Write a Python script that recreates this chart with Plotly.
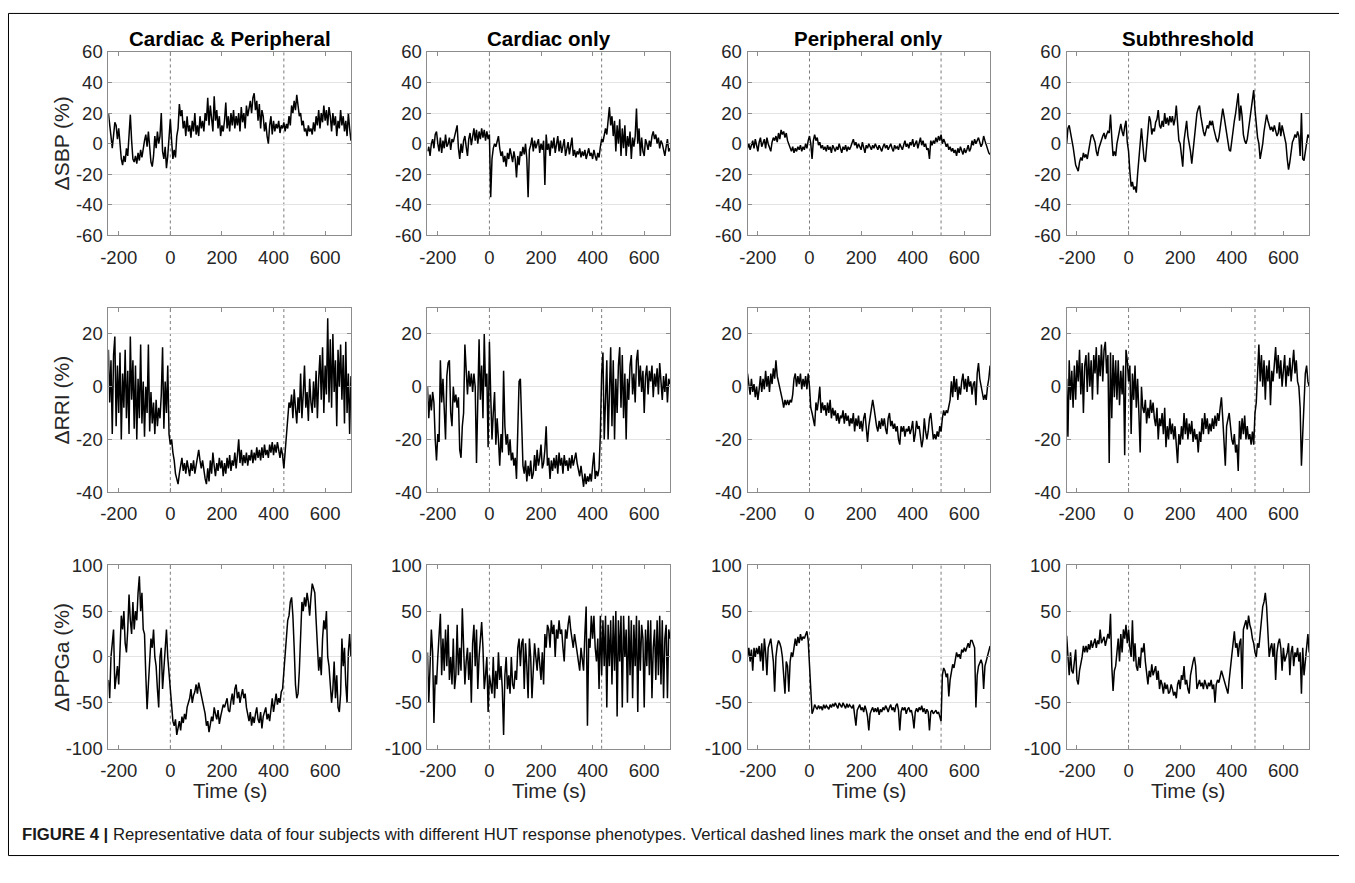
import plotly.graph_objects as go

# The page keeps the browser's default 8 px body margin, so the figure is sized
# to fill the 1355x883 window exactly and all positions are offset by 8 px.
PAGE_W, PAGE_H, OFF = 1355, 883, 8
W, H = PAGE_W - 2 * OFF, PAGE_H - 2 * OFF

# ---------------- data (5-s sampling) ----------------
t = list(range(-240, 705, 5))

sbp_cp = [20, 10, 5, -3, 8, 14, 12, 3, 10, -2, -10, -14, -8, -12, -3, -8, 5, 19, 2, -10,
          -12, -8, -13, -6, -11, -4, -9, -2, 2, 6, -2, 8, -5, -12, -15, -8, 5, -3, 8, 0,
          5, 20, -5, -10, -2, -16, -8, 5, 16, 2, -10, -4, -9, 5, 10, 26, 18, 22, 10, 15,
          5, 18, 8, 12, 4, 15, 8, 20, 6, 12, 5, 18, 10, 15, 8, 20, 15, 30, 12, 25,
          18, 8, 31, 15, 22, 10, 18, 5, 12, 8, 15, 27, 10, 18, 8, 20, 12, 22, 10, 18,
          12, 20, 8, 24, 14, 20, 10, 25, 18, 22, 28, 20, 30, 33, 22, 28, 15, 26, 10, 22,
          18, 8, 14, 5, 0, 12, 18, 6, 15, 8, 13, 10, 15, 7, 12, 10, 14, 8, 13, 10,
          18, 12, 25, 20, 28, 22, 32, 25, 18, 20, 12, 15, 8, 10, 5, 12, 8, 10, 6, 14,
          8, 18, 12, 22, 10, 20, 14, 25, 15, 22, 12, 24, 18, 8, 20, 12, 18, 5, 15, 10,
          22, 12, 18, 8, 15, 5, 20, 10, 2]

sbp_co = [-5, -2, -8, 0, 3, -3, 6, 8, 0, -5, 4, -6, 2, -3, 6, -2, 0, 4, -4, 3,
          1, 5, 9, 12, -3, -10, 0, -6, 2, 5, -2, -8, 3, 7, -1, 5, 10, 2, 9, 0,
          8, 3, 10, 4, 9, 2, 8, 3, 6, -35, -10, -3, 0, -2, 2, 5, -3, -8, -5, -12,
          -8, -15, -6, -10, -3, -8, -12, -5, -10, -22, -8, -14, -5, -8, -2, -7, 0, -10, -35, -4,
          -1, 4, -5, 2, -3, 0, 3, -6, 0, -4, 2, -27, 6, -4, 0, -8, 2, -3, 4, -6,
          0, 5, -5, 2, -6, -2, 3, -8, -3, 1, -7, -2, 4, -8, -4, -9, -5, -7, -3, -9,
          -5, -8, -4, -10, -6, -3, -8, -6, -10, -4, -8, -11, -6, -9, -2, 3, 1, 5, 10, 6,
          15, 24, 12, 18, 5, 15, -5, 12, 0, 16, -8, 10, -3, 12, -8, 5, -2, 8, -10, 4,
          -2, 5, 23, 0, 10, -8, 4, -5, -8, 3, 0, -4, 2, -2, 5, 8, 3, 6, 0, 4,
          -3, 2, 0, -5, -8, -2, 3, -5, -3]

sbp_po = [-3, 0, -4, -1, 2, -3, 3, -1, -5, 1, 4, -2, 0, 3, -3, 4, 0, -2, -5, 1,
          4, 2, 5, 1, 7, 3, 9, 6, 8, 4, 7, 2, 0, -3, -5, -2, -6, -3, -5, -2,
          -4, -1, -5, -2, -4, 0, -3, 2, 5, 0, -10, 2, 6, 2, 4, -1, 1, -3, -1, -4,
          -2, -5, -1, -4, -2, -6, -1, -3, -5, -2, -4, 0, -3, -6, -2, -4, -1, -5, -2, -4,
          -2, 0, 3, -1, 1, -3, 0, -2, -4, 1, -2, -6, -1, -3, 0, -2, -4, -1, -3, 0,
          -2, -4, -1, -3, -5, -2, 0, -3, -1, -4, -2, 0, -3, -5, -1, -3, -2, -4, 0, -2,
          -4, -1, 2, -2, 0, -3, 1, -1, 3, -2, 0, 2, -3, 1, 4, -1, 2, -2, 0, -4,
          -3, -10, 2, -1, 2, 0, 4, 1, 5, 2, 6, 0, 3, 1, -2, 0, -4, -2, -5, -3,
          -6, -4, -8, -3, -6, -2, -5, -7, -3, -6, -4, -1, -5, -3, 2, -1, 3, 0, 2, 4,
          1, -2, 0, 5, 2, -1, -3, -6, -7]

sbp_st = [0, 10, 12, 8, 3, -2, -8, -14, -16, -18, -12, -9, -11, -6, -9, -7, -10, -4, 2, 5,
          6, 4, 1, -5, -8, -3, 0, 3, 5, 7, 3, 6, 8, 7, 19, 4, -8, -5, -8, 0,
          4, 9, 13, 8, 5, 11, 15, 1, -5, -18, -28, -25, -30, -28, -32, -20, -10, 0, 10, 0,
          -10, -12, -2, 5, 18, 15, 6, 10, 8, 14, 16, 22, 12, 10, 15, 11, 20, 13, 17, 12,
          18, 14, 18, 12, 16, 25, 10, 2, 0, -6, -15, 2, 10, 15, 5, 0, -5, -13, -4, 5,
          14, 20, 23, 25, 18, 12, 8, 5, 9, 12, 10, 15, 12, 15, 10, 6, 3, 1, 4, 10,
          16, 23, 18, 12, 5, 0, -4, -5, 3, 8, 15, 20, 26, 33, 15, 25, 18, 6, 2, 0,
          3, 10, 18, 24, 30, 35, 22, 10, 4, 0, -10, -5, 0, 8, 14, 19, 15, 12, 9, 11,
          8, 12, 9, 5, 7, 14, 5, 12, 8, 4, 0, -10, -17, -12, -5, 1, 3, 6, 4, 8,
          5, -8, 20, -10, -11, -5, 0, 6, 4]

rri_cp = [14, -6, 10, -18, 12, 19, -15, 8, -10, 13, -20, 5, -8, 14, -12, 6, -18, 19, -5, 10,
          -16, 8, -20, 3, -12, 16, -14, 2, -19, 0, -10, 16, -17, -2, -14, -6, -18, -5, -15, -8,
          -12, -3, 15, -16, 2, -10, 8, -18, -22, -20, -25, -28, -33, -35, -37, -33, -29, -27, -32, -29,
          -33, -28, -31, -34, -29, -32, -28, -33, -30, -26, -24, -28, -31, -28, -32, -35, -37, -31, -36, -28,
          -33, -25, -30, -34, -29, -32, -27, -31, -28, -34, -29, -33, -27, -31, -26, -32, -28, -30, -25, -31,
          -26, -20, -29, -24, -30, -26, -29, -25, -30, -26, -28, -24, -29, -25, -28, -23, -27, -24, -28, -23,
          -27, -22, -26, -24, -27, -22, -25, -21, -26, -22, -25, -21, -24, -27, -23, -26, -31, -24, -16, -12,
          -6, -8, -3, -12, -1, -8, -14, -4, -10, 5, -12, -3, 8, -8, -2, -13, 3, -6, -10, 2,
          -8, 6, -12, 3, 12, -5, 15, -10, 8, -3, 26, -6, 18, -8, 20, -2, 10, -15, 14, 0,
          16, -5, 12, -14, 17, -10, 5, -18, 4]

rri_co = [0, -12, -3, -9, -2, -6, -20, -28, -18, -21, 10, -6, 3, -12, -20, 4, 9, 10, -10, -15,
          0, -6, -3, -8, -4, -24, -27, -15, -10, 16, 5, -3, 6, 0, 5, -2, 5, 0, -29, -10,
          18, -5, 8, -12, 20, 0, 5, -23, 17, -3, -20, -10, -2, -22, -12, -20, -30, -18, -25, 6,
          -15, -22, -18, -26, -20, -28, -25, -30, -27, -35, -15, 2, 3, -20, -30, -33, -28, -36, -30, -34,
          -28, -35, -33, -26, -32, -24, -30, -27, -22, -31, -29, -24, -15, -30, -27, -35, -28, -32, -27, -31,
          -26, -33, -25, -30, -27, -33, -26, -30, -28, -32, -27, -31, -26, -30, -27, -25, -29, -31, -34, -30,
          -35, -38, -33, -37, -34, -36, -33, -36, -30, -25, -35, -32, -34, -31, -18, 5, 13, -20, -5, 10,
          -20, 0, 15, -15, 10, -20, 3, -10, 8, 15, -8, 12, -12, 5, -20, 3, -5, 8, 12, -3,
          5, -6, 10, 14, 0, 8, -2, 6, -10, 4, 8, -3, 6, 2, 8, -4, 5, 0, 7, -3,
          9, 2, -5, 4, -2, 5, -6, 3, 1]

rri_po = [5, 1, -3, 3, -2, 1, -4, 0, -5, -1, 4, -2, 3, -1, 6, 0, 4, -2, 5, 1,
          7, 3, 10, 4, 2, -1, -3, -5, -8, -5, -7, -5, -7, -5, -6, -3, 3, 5, 0, 4,
          1, 5, -1, 3, 0, 4, -1, 5, 0, -8, -10, -12, -15, -6, -9, -5, 0, -10, -6, -9,
          -7, -11, -6, -10, -5, -12, -8, -11, -9, -13, -10, -14, -11, -12, -9, -14, -10, -13, -11, -15,
          -12, -14, -10, -17, -12, -15, -11, -16, -13, -17, -12, -10, -15, -21, -15, -12, -9, -5, -8, -12,
          -15, -17, -13, -16, -12, -15, -12, -16, -18, -12, -10, -15, -13, -16, -14, -17, -15, -20, -22, -15,
          -17, -15, -19, -16, -17, -15, -18, -16, -13, -21, -18, -13, -16, -15, -19, -23, -20, -12, -17, -20,
          -17, -12, -10, -15, -20, -18, -20, -17, -19, -15, -17, -12, -9, -11, -9, -10, -8, -5, 2, -4,
          4, -2, 3, -5, 0, -3, 2, 5, -1, 3, -2, 4, 0, 2, -3, 1, 2, -7, 5, 9,
          3, 0, -2, -5, -3, -5, 0, 3, 8]

rri_st = [3, -19, 10, -5, 6, -8, 8, -5, 10, 2, 14, -3, 9, -10, 8, 12, -2, 13, 0, 10,
          -5, 12, 5, 15, -3, 12, 4, 16, 2, 14, 17, 5, 12, -29, 13, -12, 12, -4, 10, -5,
          10, -7, 6, -3, 8, -26, 14, 10, 2, 8, -18, 5, -5, 8, -8, 3, -10, -25, 0, -8,
          -10, -5, -14, -8, -12, -5, -10, -6, -12, -15, -8, -20, -12, -15, -10, -18, -8, -23, -15, -20,
          -12, -18, -14, -20, -15, -22, -29, -18, -22, -15, -20, -10, -18, -12, -20, -14, -18, -13, -21, -16,
          -20, -18, -25, -17, -21, -12, -18, -10, -16, -12, -18, -14, -17, -12, -16, -11, -15, -10, -13, -8,
          -4, -12, -20, -30, -15, -12, -10, -15, -20, -22, -18, -25, -22, -32, -13, -20, -12, -18, -11, -20,
          -15, -20, -18, -22, -17, -22, -10, -6, 5, 16, 2, 12, 0, 10, -5, 8, 2, 10, -7, 6,
          2, 10, 15, 5, 12, 3, 10, 0, 8, 12, 0, 8, 4, 11, 2, 9, 14, 5, 10, 2,
          0, -8, -30, -18, -5, 5, 8, 2, 0]

ppg_cp = [-25, -45, 0, 15, 30, -35, -25, -10, -30, 20, 45, 30, 50, 15, 5, 30, 68, 40, 25, 60,
          30, 50, 40, 70, 88, 50, 70, 30, 25, -20, -57, -30, -5, 20, 10, 30, 0, -10, -35, -55,
          0, 10, -35, -10, 15, 30, 0, -20, -40, -55, -70, -75, -68, -85, -78, -70, -80, -65, -72, -62,
          -68, -55, -50, -45, -35, -50, -42, -38, -30, -40, -28, -35, -40, -50, -58, -62, -75, -70, -82, -70,
          -65, -70, -55, -62, -68, -58, -73, -65, -60, -52, -55, -48, -45, -58, -60, -48, -40, -52, -35, -30,
          -45, -38, -50, -42, -35, -45, -40, -55, -65, -70, -60, -75, -65, -72, -62, -55, -68, -72, -60, -78,
          -65, -60, -55, -68, -62, -70, -55, -45, -60, -48, -40, -52, -45, -50, -38, -35, -15, 5, 30, 40,
          45, 60, 65, 45, 10, -30, -45, -40, -15, 20, 60, 50, 65, 55, 70, 60, 45, 65, 80, 75,
          70, 40, 15, -15, 0, -20, 20, 40, 30, 50, 0, -10, -30, -50, -35, -5, -45, -20, -55, -60,
          -40, 20, -10, 10, -30, -50, 5, 25, 0]

ppg_co = [5, -50, -10, 30, 5, -72, -20, -30, 0, 20, 47, -20, 20, -15, 30, -10, 35, -25, 0, -30,
          20, -35, -20, 35, -20, 10, -15, 53, 20, -30, -5, 10, -25, 5, -50, 15, 35, -10, 30, -35,
          0, 20, 38, 10, -35, -20, 0, -60, -20, -30, -40, 0, -45, -15, -35, 5, -25, -10, -35, -85,
          -20, 0, -35, -20, -40, 0, -30, -35, -15, -25, 10, 20, -10, 15, 20, -35, 15, -10, -45, 20,
          0, -45, -10, 15, 0, -15, 10, -5, -25, 5, -30, 25, 10, 35, 30, 10, 40, 25, 35, 0,
          30, 20, 40, 25, 30, 10, -5, 30, 20, 35, 45, 30, 20, 10, 25, 15, 5, -5, -15, 10,
          -5, -15, 25, 55, -75, 20, 10, 45, 20, 45, 10, -5, 20, -35, 45, -20, 40, -10, 45, -55,
          35, -10, 40, -30, 45, -15, 50, -65, 40, -5, 45, -55, 45, 0, 30, -50, 45, -20, 40, -45,
          35, -10, 45, -60, 40, -15, 35, 20, -55, 30, -10, 40, -20, 40, -45, 10, 30, -25, 40, -20,
          45, -30, 40, -45, 20, 35, -45, 30, 20]

ppg_po = [0, 10, -5, 8, -15, 10, 0, 10, 3, 12, -5, 15, -15, 20, 5, -20, 10, 15, 20, 8,
          -5, -38, 0, 12, 18, 15, 10, 0, -20, -40, -5, -10, -38, -5, 5, 0, 10, 20, 12, 22,
          15, 25, 18, 22, 20, 25, 28, 18, -15, -45, -62, -58, -52, -55, -57, -53, -56, -54, -58, -52,
          -56, -53, -55, -57, -52, -55, -51, -54, -50, -53, -56, -50, -52, -55, -50, -53, -56, -51, -55, -52,
          -54, -56, -52, -62, -75, -58, -55, -52, -58, -55, -60, -53, -58, -65, -80, -62, -58, -55, -60, -56,
          -60, -55, -63, -57, -60, -55, -58, -53, -56, -60, -55, -52, -58, -55, -60, -53, -51, -58, -80, -60,
          -55, -58, -55, -62, -57, -55, -60, -58, -65, -78, -60, -56, -60, -55, -58, -53, -60, -56, -62, -57,
          -60, -80, -60, -58, -62, -60, -58, -62, -60, -65, -70, -20, -12, -15, -22, -18, -43, -25, -15, -8,
          -12, -3, 5, 0, 3, -2, 8, 5, 10, 6, 12, 15, 10, 18, 18, 14, 10, -55, -20, -10,
          -5, -3, -8, -35, -10, -5, 0, 5, 12]

ppg_st = [23, -5, -20, 5, -15, -18, -5, 8, -25, -30, -15, -8, 0, 12, 5, 12, 5, 14, 8, 18,
          10, 15, 20, 10, 18, 14, 30, 15, 18, 22, 12, 20, 25, 20, 47, -10, -37, -15, -10, 5,
          20, -5, 25, 5, 30, 20, 35, 15, 30, 10, 0, 40, -5, 15, -10, -15, 0, -12, 10, 5,
          15, -5, -20, -30, -15, -22, -8, -20, -15, -10, -25, -15, -35, -25, -30, -40, -28, -35, -30, -40,
          -38, -30, -35, -42, -38, -45, -30, -25, -35, -20, -25, -10, -30, -25, -35, -40, -20, -10, -5, 0,
          -10, -35, -30, -25, -32, -28, -35, -25, -30, -35, -28, -32, -25, -35, -30, -50, -30, -25, -28, -20,
          -15, -20, -25, -30, -35, -40, -25, -10, 0, 15, 28, 10, 15, 0, 15, 20, -35, 30, 35, 40,
          30, 45, 35, 30, 20, 15, 5, 0, 15, 10, 25, 40, 55, 60, 70, 55, 20, 0, 10, 15,
          0, 15, -25, 5, 15, 20, 10, -15, 10, -5, 0, 5, 15, -20, 5, 12, -10, 5, 0, 10,
          -5, 5, -40, 10, -20, 0, 10, 25, 5]

columns = ["Cardiac & Peripheral", "Cardiac only", "Peripheral only", "Subthreshold"]
row_labels = ["\u0394SBP (%)", "\u0394RRI (%)", "\u0394PPGa (%)"]
series = [[sbp_cp, sbp_co, sbp_po, sbp_st],
          [rri_cp, rri_co, rri_po, rri_st],
          [ppg_cp, ppg_co, ppg_po, ppg_st]]
hut_onset = 0
hut_end = [440, 435, 510, 490]
x_range = [-240, 700]
x_ticks = [-200, 0, 200, 400, 600]
y_ranges = [[-60, 60], [-40, 30], [-100, 100]]
y_ticks = [[-60, -40, -20, 0, 20, 40, 60], [-40, -20, 0, 20], [-100, -50, 0, 50, 100]]
caption_bold = "FIGURE 4 |"
caption_text = ("Representative data of four subjects with different HUT response phenotypes. "
                "Vertical dashed lines mark the onset and the end of HUT.")

# ---------------- layout geometry (page pixels) ----------------
col_px = [(109, 353), (430, 674), (752, 996), (1073, 1317)]
row_px = [(50, 238), (312, 501), (576, 764)]
FONT = "Liberation Sans, Arial, Helvetica, sans-serif"
TXT = "#262626"
FRAME = "#8c8c8c"
GRID = "#e4e4e4"


def px_x(p):
    return (p - OFF) / W


def px_y(p):
    return 1 - (p - OFF) / H


fig = go.Figure()
layout = dict(width=W, height=H, margin=dict(l=0, r=0, t=0, b=0), autosize=False,
              paper_bgcolor="white", plot_bgcolor="white", showlegend=False,
              font=dict(family=FONT, color=TXT))
shapes = []
annotations = []

for r in range(3):
    for c in range(4):
        i = r * 4 + c + 1
        sid = "" if i == 1 else str(i)
        y = series[r][c]
        fig.add_trace(go.Scatter(x=t[:len(y)], y=y, mode="lines",
                                 line=dict(color="black", width=1.5),
                                 xaxis="x" + sid, yaxis="y" + sid,
                                 hoverinfo="skip"))
        x0, x1 = col_px[c]
        y0, y1 = row_px[r]
        layout["xaxis" + sid] = dict(
            domain=[px_x(x0), px_x(x1)], anchor="y" + sid, range=x_range,
            tickmode="array", tickvals=x_ticks, ticktext=[str(v) for v in x_ticks],
            ticks="inside", ticklen=4, tickcolor=FRAME, showline=True, linecolor=FRAME,
            linewidth=1, mirror="ticks", showgrid=False, zeroline=False,
            ticklabelstandoff=5,
            tickfont=dict(size=18.5, family=FONT, color=TXT), fixedrange=True)
        yt = y_ticks[r]
        layout["yaxis" + sid] = dict(
            domain=[px_y(y1), px_y(y0)], anchor="x" + sid, range=y_ranges[r],
            tickmode="array", tickvals=yt, ticktext=[str(v) for v in yt],
            ticks="inside", ticklen=4, tickcolor=FRAME, showline=True, linecolor=FRAME,
            linewidth=1, mirror="ticks", showgrid=True, gridcolor=GRID, gridwidth=1,
            zeroline=False, ticklabelstandoff=1,
            tickfont=dict(size=18.5, family=FONT, color=TXT), fixedrange=True)
        for xv in (hut_onset, hut_end[c]):
            shapes.append(dict(type="line", xref="x" + sid, yref="y" + sid + " domain",
                               x0=xv, x1=xv, y0=0, y1=1, layer="below",
                               line=dict(color="#7a7a7a", width=1, dash="3px,3px")))

# column titles
for c, name in enumerate(columns):
    annotations.append(dict(text="<b>%s</b>" % name, x=px_x(sum(col_px[c]) / 2), y=px_y(36),
                            xref="paper", yref="paper", showarrow=False,
                            xanchor="center", yanchor="middle",
                            font=dict(size=20.5, family=FONT, color="black")))
# row labels
for r, lab in enumerate(row_labels):
    annotations.append(dict(text=lab, x=px_x(62), y=px_y(sum(row_px[r]) / 2),
                            xref="paper", yref="paper", showarrow=False, textangle=-90,
                            xanchor="center", yanchor="middle",
                            font=dict(size=21, family=FONT, color=TXT)))
# time labels
for c in range(4):
    annotations.append(dict(text="Time (s)", x=px_x(sum(col_px[c]) / 2), y=px_y(807),
                            xref="paper", yref="paper", showarrow=False,
                            xanchor="center", yanchor="middle",
                            font=dict(size=20.5, family=FONT, color=TXT)))
# caption
annotations.append(dict(text="<b>%s</b> %s" % (caption_bold, caption_text),
                        x=px_x(20), y=px_y(852), xref="paper", yref="paper",
                        showarrow=False, xanchor="left", yanchor="middle",
                        font=dict(size=16.7, family=FONT, color="#1a1a1a")))
# outer frame (its right side runs off the picture, as in the reference)
shapes.append(dict(type="rect", xref="paper", yref="paper",
                   x0=px_x(8.5), x1=1.02, y0=px_y(873.5), y1=px_y(10.5),
                   line=dict(color="black", width=1), fillcolor="rgba(0,0,0,0)"))

layout["shapes"] = shapes
layout["annotations"] = annotations
fig.update_layout(**layout)
fig.write_html("out.html")
